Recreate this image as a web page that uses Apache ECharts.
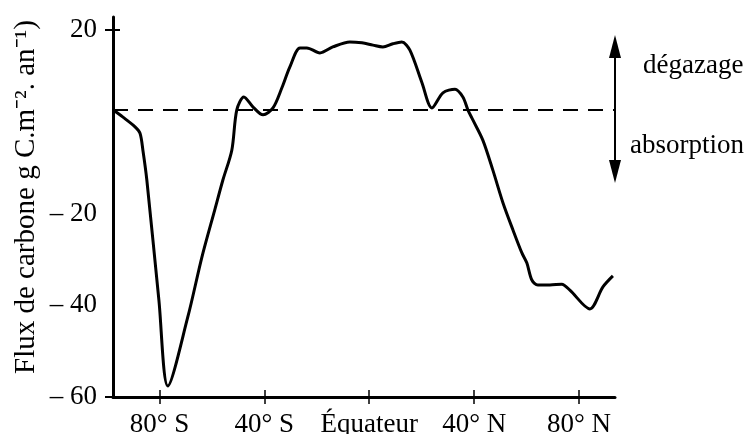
<!DOCTYPE html>
<html>
<head>
<meta charset="utf-8">
<script src="https://cdn.jsdelivr.net/npm/echarts@6/dist/echarts.min.js"></script>
<style>
html,body{margin:0;padding:0;background:#fff;}
#chart{width:755px;height:434px;}
</style>
</head>
<body>
<div id="chart"></div>
<script>
// Latitude (degrees, south negative) and carbon flux values
const latitudes = [-97.7,-93.9,-89.3,-87.4,-86.3,-84.8,-80.2,-76.8,-69.2,-63.8,-58.9,-55.8,-52.4,-50.5,-47.8,-44.3,-40.5,-36.7,-33.3,-30.3,-26.4,-23.8,-18.8,-13.9,-7.4,-2.8,1.4,5.2,9.0,12.4,15.5,20.1,23.9,28.1,32.7,35.7,37.6,39.5,43.3,47.1,51.0,54.8,58.2,60.1,62.0,64.3,68.9,73.4,76.5,84.1,89.1,92.9];
const flux = [2.6,1.0,-1.1,-2.5,-6.2,-12.7,-38.9,-57.6,-42.6,-29.5,-19.2,-12.7,-6.2,2.6,5.4,3.2,1.5,3.0,7.4,11.9,16.1,16.1,15.0,16.3,17.4,17.2,16.7,16.3,17.0,17.4,15.6,8.5,3.0,6.3,7.1,5.4,2.6,0.4,-4.0,-10.5,-17.7,-23.6,-28.6,-30.8,-34.5,-35.6,-35.6,-35.4,-36.7,-40.8,-36.0,-33.6];
const xTickValues = [-80,-40,0,40,80];
const xTickLabels = ['80° S','40° S','Équateur','40° N','80° N'];
const yTickValues = [20,-20,-40,-60];
const referenceLevel = 2.6;
const xRange = [-97.7, 93.7];
const yRange = [-60, 22.83];

const chart = echarts.init(document.getElementById('chart'), null, {renderer:'canvas'});
const font = 'Liberation Serif';
const data = latitudes.map((x,i)=>[x, flux[i]]);

function xLabel(v){
  const i = xTickValues.indexOf(Math.round(v));
  return i >= 0 ? xTickLabels[i] : '';
}
function yLabel(v){
  return v < 0 ? '\u2013 ' + Math.abs(v) : String(v);
}

const option = {
  animation:false,
  backgroundColor:'#fff',
  grid:{left:113, right:140, top:17, bottom:37, containLabel:false, outerBoundsMode:'none'},
  xAxis:[
    {type:'value', min:xRange[0], max:xRange[1], position:'bottom',
     axisLine:{show:true, onZero:false, lineStyle:{color:'#000', width:3}},
     axisTick:{show:true, customValues:xTickValues, length:7, inside:false, lineStyle:{color:'#000', width:1.5}},
     axisLabel:{show:true, customValues:xTickValues, formatter:xLabel, margin:14, color:'#000', fontFamily:font, fontSize:27},
     splitLine:{show:false}},
    {type:'value', min:xRange[0], max:xRange[1], position:'bottom',
     axisLine:{show:false, onZero:false},
     axisTick:{show:true, customValues:xTickValues, length:7, inside:true, lineStyle:{color:'#000', width:1.5}},
     axisLabel:{show:false}, splitLine:{show:false}}
  ],
  yAxis:[
    {type:'value', min:yRange[0], max:yRange[1], position:'left',
     axisLine:{show:true, onZero:false, lineStyle:{color:'#000', width:3}},
     axisTick:{show:true, customValues:[20,-60], length:8, inside:false, lineStyle:{color:'#000', width:2}},
     axisLabel:{show:true, customValues:yTickValues, formatter:yLabel, margin:16, color:'#000', fontFamily:font, fontSize:27},
     splitLine:{show:false}},
    {type:'value', min:yRange[0], max:yRange[1], position:'left',
     axisLine:{show:false, onZero:false},
     axisTick:{show:true, customValues:[20], length:7, inside:true, lineStyle:{color:'#000', width:2}},
     axisLabel:{show:false}, splitLine:{show:false}}
  ],
  series:[{
    type:'line', xAxisIndex:0, yAxisIndex:0, data:data, smooth:0.3,
    showSymbol:false, symbol:'none',
    lineStyle:{color:'#000', width:3},
    markLine:{silent:true, symbol:['none','none'], label:{show:false},
      lineStyle:{color:'#000', type:[15,10], width:2},
      data:[{yAxis:referenceLevel}]}
  }],
  graphic:[
    {type:'text', x:26, y:197, rotation:Math.PI/2,
     style:{text:'Flux de carbone g C.m\u207B\u00B2. an\u207B\u00B9)', fill:'#000', font:'29px "Liberation Serif"', align:'center', verticalAlign:'middle'}},
    {type:'line', shape:{x1:615, y1:50, x2:615, y2:168}, style:{stroke:'#000', lineWidth:2}},
    {type:'polygon', shape:{points:[[615,35],[609,58],[621,58]]}, style:{fill:'#000'}},
    {type:'polygon', shape:{points:[[615,183],[609,160],[621,160]]}, style:{fill:'#000'}},
    {type:'text', x:643, y:66, style:{text:'dégazage', fill:'#000', font:'27px "Liberation Serif"', align:'left', verticalAlign:'middle'}},
    {type:'text', x:630, y:146, style:{text:'absorption', fill:'#000', font:'27px "Liberation Serif"', align:'left', verticalAlign:'middle'}}
  ]
};
chart.setOption(option);
</script>
</body>
</html>
